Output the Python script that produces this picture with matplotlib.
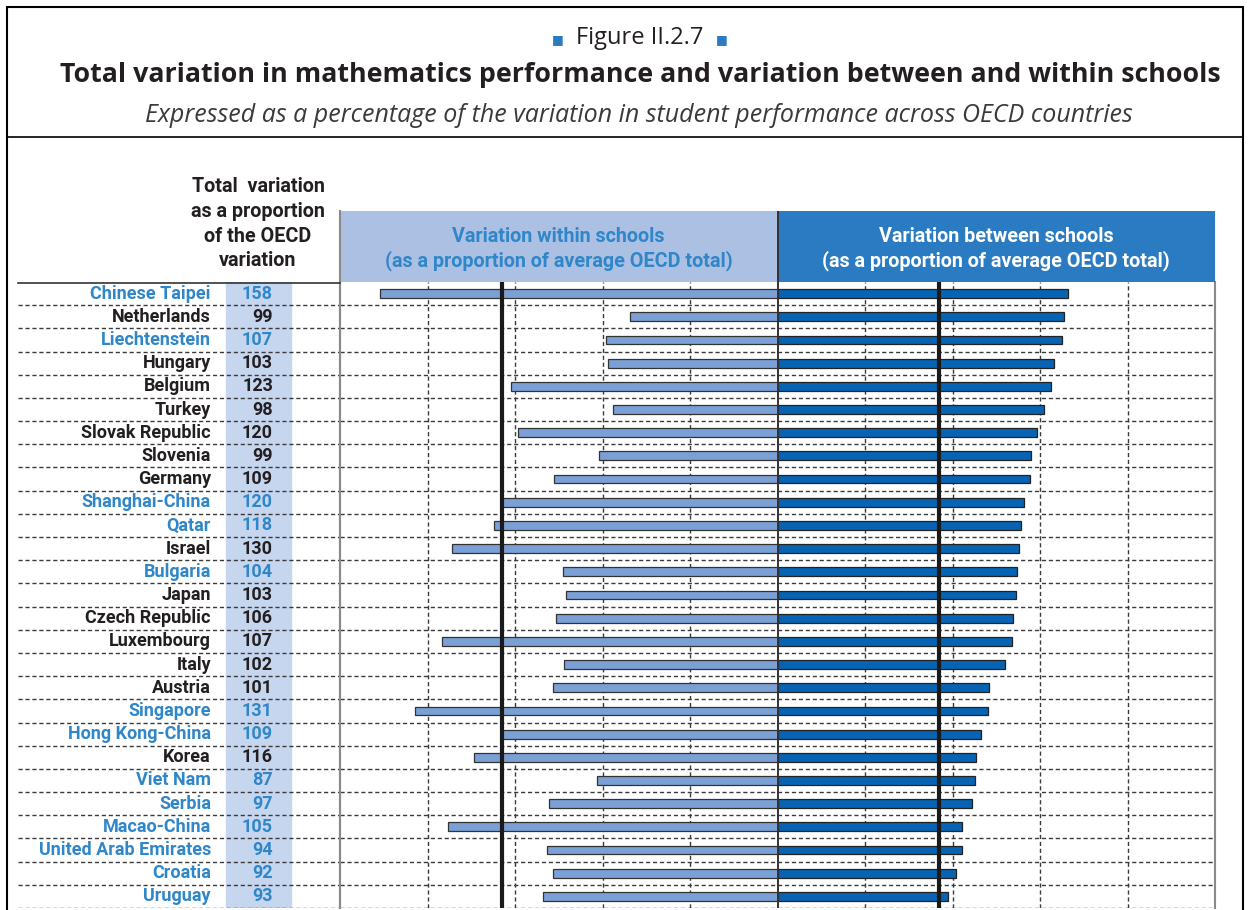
import numpy as np
import matplotlib
matplotlib.use("Agg")
import matplotlib.pyplot as plt
from matplotlib.patches import Rectangle
from matplotlib.lines import Line2D
from matplotlib import font_manager

# ---------------- DATOS ----------------
countries = ["Chinese Taipei", "Netherlands", "Liechtenstein", "Hungary", "Belgium",
             "Turkey", "Slovak Republic", "Slovenia", "Germany", "Shanghai-China",
             "Qatar", "Israel", "Bulgaria", "Japan", "Czech Republic", "Luxembourg",
             "Italy", "Austria", "Singapore", "Hong Kong-China", "Korea", "Viet Nam",
             "Serbia", "Macao-China", "United Arab Emirates", "Croatia", "Uruguay"]
partner = [True, False, True, False, False, False, False, False, False, True,
           True, False, True, False, False, False, False, False, True, True,
           False, True, True, True, True, True, True]
total_var = [158, 99, 107, 103, 123, 98, 120, 99, 109, 120, 118, 130, 104, 103,
             106, 107, 102, 101, 131, 109, 116, 87, 97, 105, 94, 92, 93]
within = [90.9, 33.7, 39.1, 38.8, 61.0, 37.5, 59.4, 40.7, 51.0, 63.3, 64.9, 74.5,
          49.1, 48.4, 50.7, 76.7, 48.7, 51.3, 82.8, 62.9, 69.3, 41.3, 52.3, 75.4,
          52.6, 51.3, 53.6]
between = [66.4, 65.4, 65.1, 63.2, 62.5, 60.9, 59.3, 58.0, 57.7, 56.4, 55.7, 55.1,
           54.7, 54.4, 53.8, 53.5, 51.9, 48.4, 48.1, 46.4, 45.4, 45.1, 44.5, 42.2,
           42.2, 40.9, 39.0]
oecd_within = 63
oecd_between = 37

# ---------------- ESTILO ----------------
W, H = 1250, 910
names = {f.name for f in font_manager.fontManager.ttflist}
NARROW = "Roboto" if "Roboto" in names else "DejaVu Sans"
SANS = "Open Sans" if "Open Sans" in names else "DejaVu Sans"

BLUE_TXT = "#2f86c8"
DARK_TXT = "#231f20"
BOX_LIGHT = "#abc0e3"
BOX_DARK = "#2a7bc1"
BAND = "#c6d6ef"
BAR_LIGHT = "#7ba0d5"
BAR_DARK = "#0763b3"
GRID = "#3a3a3a"


def fx(x):
    return x / W


def fy(y):
    return 1 - y / H


fig = plt.figure(figsize=(W / 100, H / 100), dpi=100)
fig.patch.set_facecolor("white")

# marco exterior
fig.add_artist(Rectangle((fx(7), fy(920)), fx(1243) - fx(7), fy(7) - fy(920),
                         transform=fig.transFigure, fill=False, edgecolor="black", lw=1.5))
fig.add_artist(Line2D([fx(7), fx(1243)], [fy(137), fy(137)], transform=fig.transFigure,
                      color="black", lw=1.2))

# títulos
fig.text(fx(640), fy(38), "Figure II.2.7", ha="center", va="center", fontsize=17,
         family=SANS, color=DARK_TXT)
fig.text(fx(558), fy(40), "■", ha="center", va="center", fontsize=9, color=BOX_DARK)
fig.text(fx(722), fy(40), "■", ha="center", va="center", fontsize=9, color=BOX_DARK)
fig.text(fx(640), fy(75), "Total variation in mathematics performance and variation between and within schools",
         ha="center", va="center", fontsize=19.3, fontweight="bold", family=SANS, color=DARK_TXT)
fig.text(fx(639), fy(115), "Expressed as a percentage of the variation in student performance across OECD countries",
         ha="center", va="center", fontsize=18, style="italic", family=SANS, color="#3a3a3a")

# ------------- GRÁFICO PRINCIPAL -------------
top, bottom = 282, 908
ax = fig.add_axes([fx(340), fy(bottom), fx(1215) - fx(340), fy(top) - fy(bottom)])
y = np.arange(len(countries))
ax.barh(y, [-v for v in within], height=0.38, color=BAR_LIGHT, edgecolor="#333333", lw=0.9, zorder=3)
ax.barh(y, between, height=0.38, color=BAR_DARK, edgecolor="#222222", lw=0.9, zorder=3)
ax.set_xlim(-100, 100)
ax.set_ylim(len(countries) - 0.5, -0.5)
for g in [-80, -60, -40, -20, 20, 40, 60, 80]:
    ax.axvline(g, color=GRID, lw=1, ls=(0, (3, 2)), zorder=1)
for i in range(len(countries)):
    ax.axhline(i + 0.5, color=GRID, lw=1, ls=(0, (3, 2)), zorder=1)
ax.axvline(0, color="#333333", lw=1.4, zorder=4)
ax.axvline(-oecd_within, color="#1a1a1a", lw=3, zorder=5)
ax.axvline(oecd_between, color="#1a1a1a", lw=3, zorder=5)
for s in ["top", "bottom"]:
    ax.spines[s].set_visible(False)
for s in ["left", "right"]:
    ax.spines[s].set_color("#8a8a8a")
    ax.spines[s].set_linewidth(1.5)
ax.set_xticks([])
ax.set_yticks([])

# ------------- CABECERA DE LAS BARRAS -------------
axh = fig.add_axes([fx(340), fy(top), fx(1215) - fx(340), fy(211) - fy(top)])
axh.set_xlim(-100, 100)
axh.set_ylim(0, 1)
axh.axvspan(-100, 0, color=BOX_LIGHT)
axh.axvspan(0, 100, color=BOX_DARK)
axh.axvline(0, color="#333333", lw=1.4)
axh.axis("off")
hdr = dict(ha="center", va="center", fontsize=14.2, fontweight="bold", family=NARROW)
axh.text(-50, 0.64, "Variation within schools", color=BLUE_TXT, **hdr)
axh.text(-50, 0.3, "(as a proportion of average OECD total)", color=BLUE_TXT, **hdr)
axh.text(50, 0.64, "Variation between schools", color="white", **hdr)
axh.text(50, 0.3, "(as a proportion of average OECD total)", color="white", **hdr)
fig.add_artist(Line2D([fx(339.5), fx(339.5)], [fy(908), fy(211)], transform=fig.transFigure,
                      color="#8a8a8a", lw=1.5))

# ------------- TABLA IZQUIERDA -------------
axt = fig.add_axes([fx(18), fy(bottom), fx(340) - fx(18), fy(top) - fy(bottom)], sharey=ax)
axt.set_xlim(18, 340)
axt.axvspan(226, 291, color=BAND, zorder=0)
for i in range(len(countries)):
    axt.axhline(i + 0.5, color=GRID, lw=1, ls=(0, (3, 2)), zorder=1)
axt.axis("off")
for i, (c, p, t) in enumerate(zip(countries, partner, total_var)):
    col = BLUE_TXT if p else DARK_TXT
    axt.text(211, i, c, ha="right", va="center", fontsize=13, fontweight="bold",
             family=NARROW, color=col)
    axt.text(273, i, str(t), ha="right", va="center", fontsize=13, fontweight="bold",
             family=NARROW, color=col)
fig.add_artist(Line2D([fx(18), fx(340)], [fy(282.5), fy(282.5)], transform=fig.transFigure,
                      color="#333333", lw=1.2))

for j, line in enumerate(["Total  variation", "as a proportion", "of the OECD", "variation"]):
    fig.text(fx(258), fy(186 + 25 * j), line, ha="center", va="center", fontsize=14.2,
             fontweight="bold", family=NARROW, color=DARK_TXT)

fig.savefig("out.png", dpi=100)
